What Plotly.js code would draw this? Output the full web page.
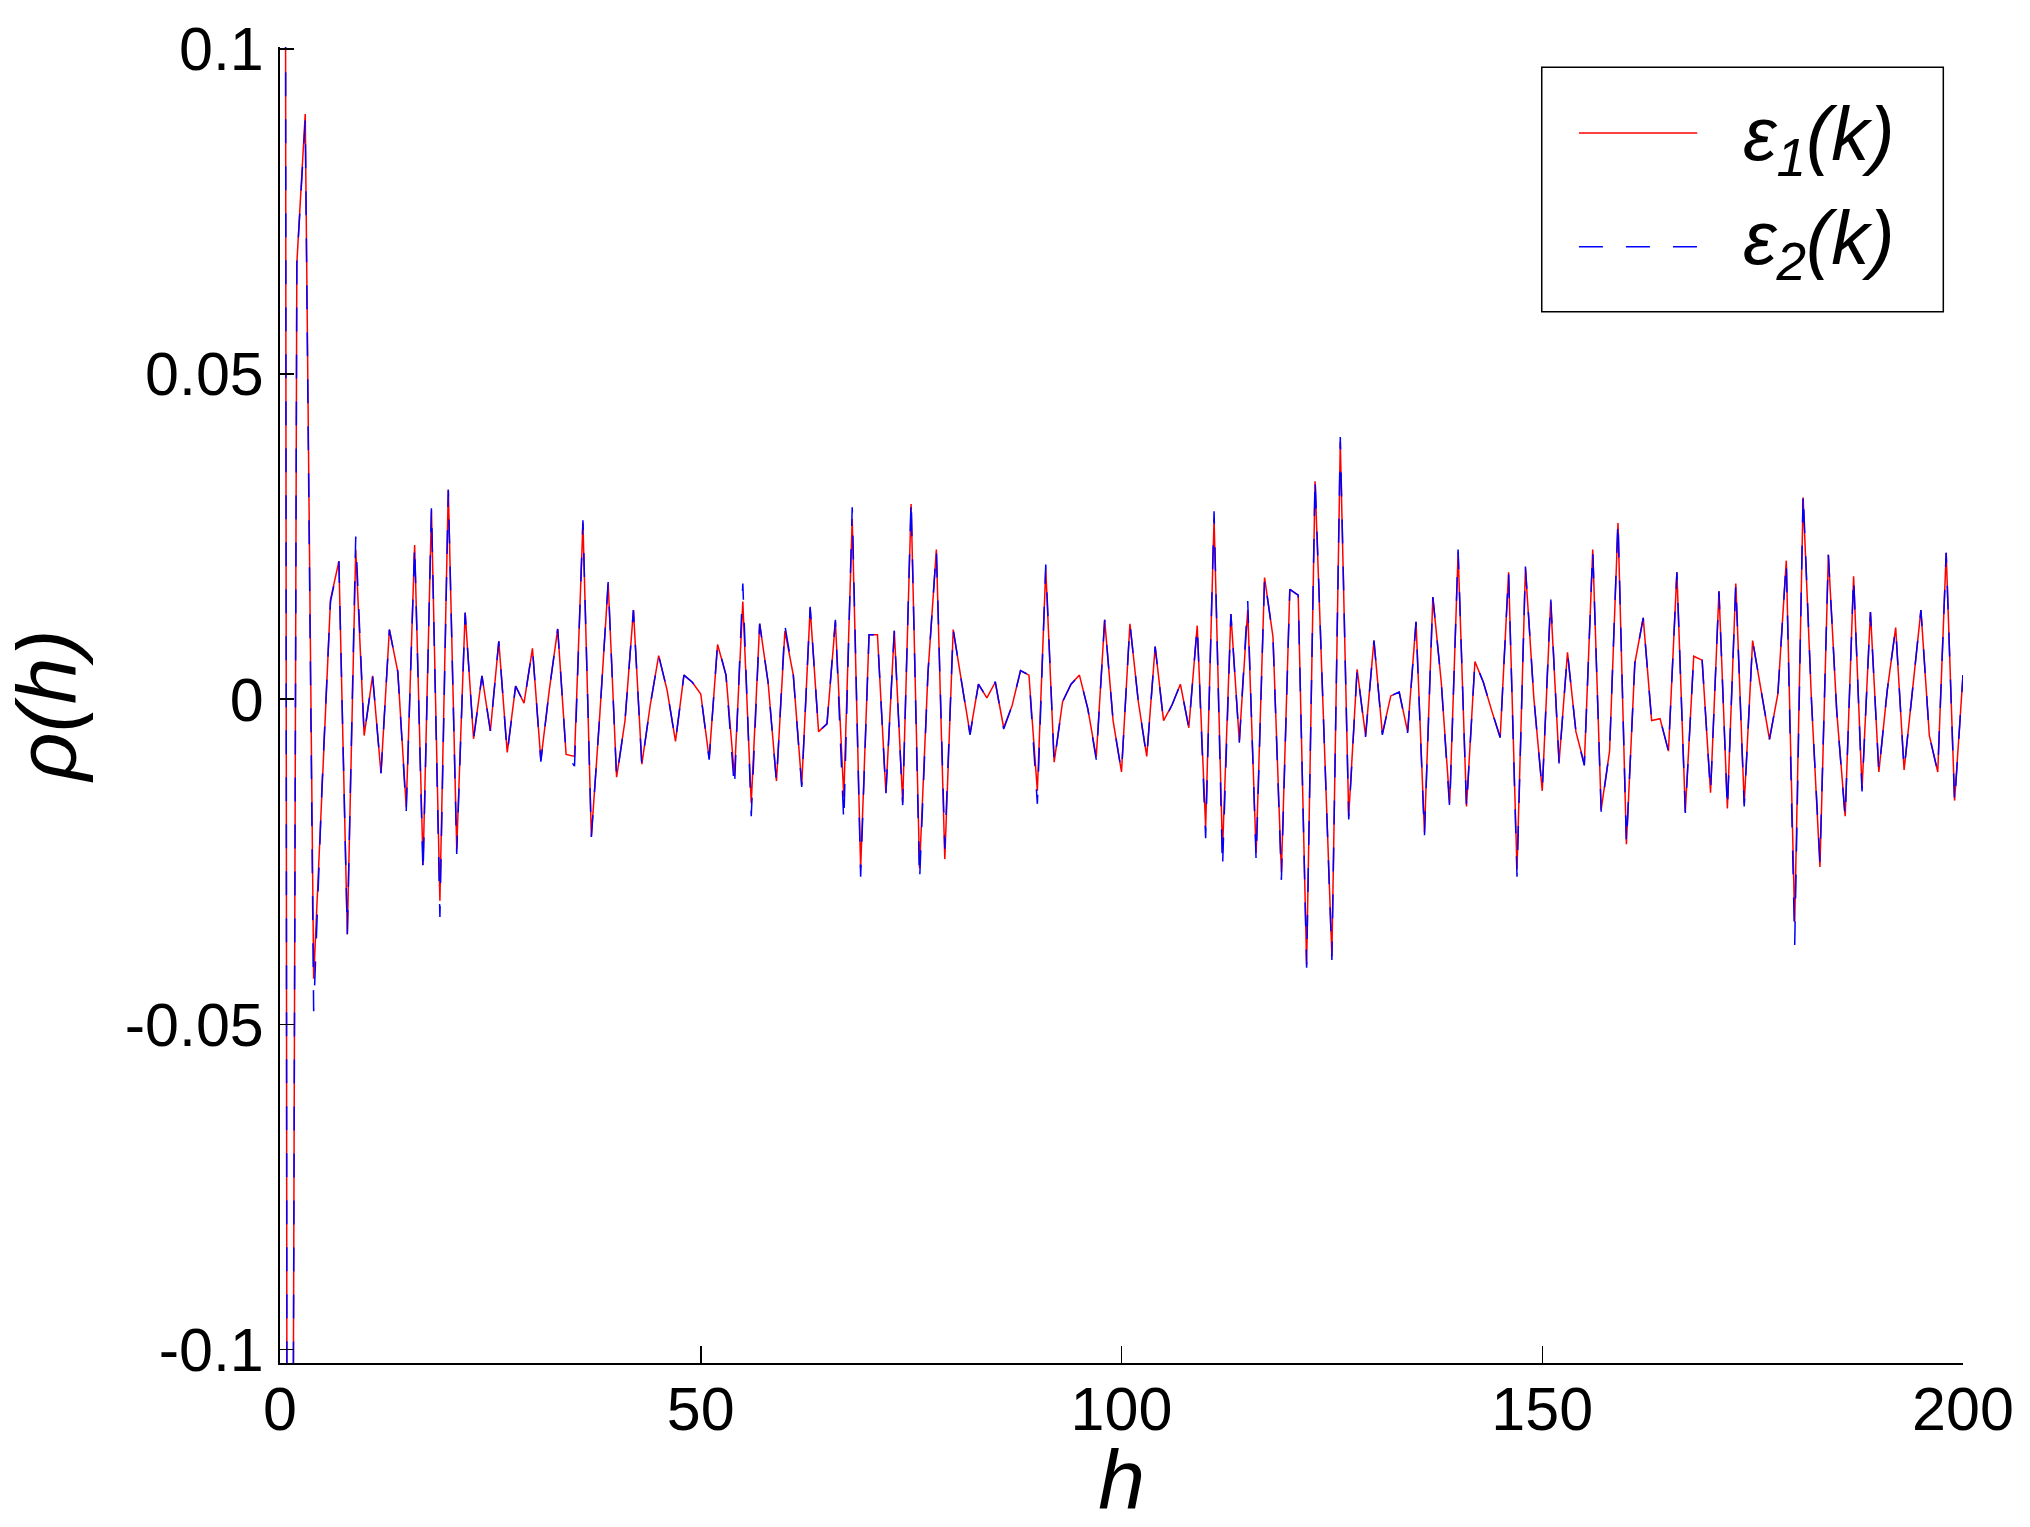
<!DOCTYPE html>
<html>
<head>
<meta charset="utf-8">
<script src="https://cdn.plot.ly/plotly-3.0.1.min.js"></script>
<style>html,body{margin:0;padding:0;background:#fff;}#chart{width:2030px;height:1527px;}</style>
</head>
<body>
<div id="chart"></div>
<script>
// lags h = 0..200
const lags = Array.from({length: 201}, (_, i) => i);

// autocorrelation of eps1(k)
const rho1 = [
 1.0, -0.35, 0.067, 0.090, -0.043, -0.013, 0.0153, 0.0212, -0.0362, 0.023,
 -0.0056, 0.0036, -0.0114, 0.0107, 0.0042, -0.0166, 0.0237, -0.0255, 0.0290, -0.0310,
 0.0322, -0.0230, 0.0133, -0.0061, 0.0036, -0.0049, 0.0089, -0.0082, 0.0020, -0.0006,
 0.0078, -0.0094, 0.0014, 0.0108, -0.0085, -0.0088, 0.0271, -0.0211, -0.0025, 0.0178,
 -0.0120, -0.0033, 0.0137, -0.0100, -0.0009, 0.0067, 0.0014, -0.0065, 0.0037, 0.0026,
 0.0008, -0.0091, 0.0084, 0.0037, -0.0118, 0.0150, -0.0160, 0.0116, 0.0026, -0.0126,
 0.0105, 0.0037, -0.0132, 0.0140, -0.0050, -0.0038, 0.0119, -0.0150, 0.0277, -0.0260,
 0.0099, 0.0099, -0.0144, 0.0105, -0.0159, 0.0300, -0.0260, 0.0040, 0.0230, -0.0246,
 0.0107, 0.0026, -0.0053, 0.0023, 0.0002, 0.0026, -0.0044, -0.0010, 0.0044, 0.0037,
 -0.0141, 0.0200, -0.0097, -0.0004, 0.0023, 0.0037, -0.0015, -0.0089, 0.0122, -0.0033,
 -0.0112, 0.0116, -0.0004, -0.0088, 0.0081, -0.0033, -0.0009, 0.0023, -0.0044, 0.0113,
 -0.0197, 0.0277, -0.0235, 0.0131, -0.0065, 0.0137, -0.0237, 0.0187, 0.0096, -0.0266,
 0.0169, 0.0160, -0.0408, 0.0335, -0.0020, -0.0395, 0.0395, -0.0180, 0.0046, -0.0056,
 0.0090, -0.0053, 0.0005, 0.0011, -0.0050, 0.0119, -0.0205, 0.0157, 0.0026, -0.0160,
 0.0225, -0.0165, 0.0058, 0.0026, -0.0018, -0.0059, 0.0195, -0.0262, 0.0201, 0.0002,
 -0.0141, 0.0150, -0.0097, 0.0072, -0.0050, -0.0100, 0.0230, -0.0170, -0.0080, 0.0271,
 -0.0223, 0.0055, 0.0125, -0.0033, -0.0030, -0.0080, 0.0195, -0.0173, 0.0066, 0.0060,
 -0.0144, 0.0166, -0.0168, 0.0178, -0.0161, 0.0090, 0.0014, -0.0062, 0.0008, 0.0213,
 -0.0343, 0.0310, -0.0004, -0.0258, 0.0222, -0.0020, -0.0180, 0.0189, -0.0138, 0.0134,
 -0.0112, 0.0014, 0.0110, -0.0109, 0.0014, 0.0137, -0.0056, -0.0112, 0.0225, -0.0156,
 0.0037
];

// autocorrelation of eps2(k)
const rho2 = [
 1.0, -0.35, 0.067, 0.089, -0.048, -0.013, 0.0150, 0.0212, -0.0362, 0.025,
 -0.0056, 0.0036, -0.0114, 0.0107, 0.0042, -0.0172, 0.0238, -0.0270, 0.0296, -0.0335,
 0.0322, -0.0238, 0.0133, -0.0061, 0.0036, -0.0049, 0.0089, -0.0084, 0.0020, -0.0006,
 0.0078, -0.0096, 0.0014, 0.0108, -0.0085, -0.0103, 0.0275, -0.0212, -0.0025, 0.0180,
 -0.0122, -0.0033, 0.0137, -0.0102, -0.0009, 0.0067, 0.0014, -0.0065, 0.0037, 0.0026,
 0.0008, -0.0093, 0.0086, 0.0037, -0.0138, 0.0178, -0.0180, 0.0116, 0.0026, -0.0128,
 0.0113, 0.0037, -0.0135, 0.0142, -0.0050, -0.0038, 0.0122, -0.0190, 0.0295, -0.0273,
 0.0099, 0.0099, -0.0146, 0.0105, -0.0163, 0.0309, -0.0280, 0.0040, 0.0230, -0.0230,
 0.0107, 0.0026, -0.0055, 0.0023, 0.0002, 0.0027, -0.0046, -0.0010, 0.0044, 0.0037,
 -0.0161, 0.0207, -0.0099, -0.0004, 0.0023, 0.0037, -0.0015, -0.0093, 0.0122, -0.0033,
 -0.0112, 0.0116, -0.0004, -0.0090, 0.0081, -0.0035, -0.0009, 0.0023, -0.0044, 0.0113,
 -0.0214, 0.0289, -0.0261, 0.0131, -0.0067, 0.0151, -0.0249, 0.0187, 0.0096, -0.0278,
 0.0169, 0.0160, -0.0413, 0.0342, -0.0020, -0.0401, 0.0403, -0.0185, 0.0046, -0.0058,
 0.0090, -0.0055, 0.0005, 0.0011, -0.0052, 0.0119, -0.0211, 0.0157, 0.0026, -0.0168,
 0.0230, -0.0168, 0.0058, 0.0026, -0.0018, -0.0059, 0.0195, -0.0273, 0.0204, 0.0002,
 -0.0141, 0.0157, -0.0099, 0.0072, -0.0050, -0.0102, 0.0230, -0.0173, -0.0080, 0.0276,
 -0.0223, 0.0055, 0.0125, -0.0033, -0.0030, -0.0080, 0.0195, -0.0175, 0.0066, 0.0060,
 -0.0144, 0.0166, -0.0170, 0.0178, -0.0165, 0.0090, 0.0014, -0.0062, 0.0008, 0.0213,
 -0.0378, 0.0318, -0.0004, -0.0250, 0.0222, -0.0020, -0.0183, 0.0189, -0.0142, 0.0134,
 -0.0112, 0.0014, 0.0110, -0.0109, 0.0014, 0.0137, -0.0056, -0.0112, 0.0225, -0.0160,
 0.0037
];

const seriesNames = ['<i>ε<sub>1</sub>(k)</i>', '<i>ε<sub>2</sub>(k)</i>'];
const seriesColors = ['#ff0000', '#0000ff'];
const seriesDash = ['solid', '24px,23px'];
const xTickVals = [0, 50, 100, 150, 200];
const xTickText = ['0', '50', '100', '150', '200'];
const yTickVals = [-0.1, -0.05, 0, 0.05, 0.1];
const yTickText = ['-0.1', '-0.05', '0', '0.05', '0.1'];

const FONT = 'Liberation Sans, Arial, Helvetica, sans-serif';

const traces = [
  {x: lags, y: rho1, type: 'scatter', mode: 'lines', name: seriesNames[0],
   line: {color: seriesColors[0], width: 1.5, dash: seriesDash[0]}},
  {x: lags, y: rho2, type: 'scatter', mode: 'lines', name: seriesNames[1],
   line: {color: seriesColors[1], width: 1.5, dash: seriesDash[1]}}
];

// Legend box drawn in paper coordinates (MATLAB-style boxed legend)
const legBox = {x0: 0.7497, x1: 0.9883, y0: 0.7988, y1: 0.9846};
const legLineX = [0.7718, 0.8421];
const legRowY = [0.9347, 0.8483];
const legTextX = 0.8681;
const legTextY = [0.9301, 0.8510];

const shapes = [
  {type: 'rect', xref: 'paper', yref: 'paper', x0: legBox.x0, x1: legBox.x1, y0: legBox.y0, y1: legBox.y1,
   line: {color: '#000', width: 1.5}, fillcolor: '#ffffff', layer: 'above'}
];
const annotations = [];
for (let i = 0; i < 2; i++) {
  shapes.push({type: 'line', xref: 'paper', yref: 'paper', x0: legLineX[0], x1: legLineX[1],
    y0: legRowY[i], y1: legRowY[i], line: {color: seriesColors[i], width: 1.5, dash: seriesDash[i]}, layer: 'above'});
  annotations.push({xref: 'paper', yref: 'paper', x: legTextX, y: legTextY[i], xanchor: 'left', yanchor: 'middle',
    text: seriesNames[i], showarrow: false, font: {family: FONT, size: 76, color: '#000'}});
}

const layout = {
  width: 2030, height: 1527,
  margin: {l: 280, r: 67, t: 47, b: 164, pad: 0},
  paper_bgcolor: '#ffffff', plot_bgcolor: '#ffffff',
  font: {family: FONT, color: '#000000', size: 61},
  showlegend: false,
  shapes: shapes,
  annotations: annotations,
  xaxis: {
    range: [0, 200], tickvals: xTickVals, ticktext: xTickText,
    ticks: 'inside', ticklen: 17, tickwidth: 1.5, tickcolor: '#000',
    showline: true, linecolor: '#000', linewidth: 2, mirror: false,
    showgrid: false, zeroline: false, ticklabelstandoff: -8,
    tickfont: {family: FONT, size: 61, color: '#000'},
    title: {text: '<i>h</i>', font: {family: FONT, size: 84, color: '#000'}, standoff: 60}
  },
  yaxis: {
    range: [-0.1021, 0.1003], tickvals: yTickVals, ticktext: yTickText,
    ticks: 'inside', ticklen: 14, tickwidth: 1.5, tickcolor: '#000',
    showline: true, linecolor: '#000', linewidth: 2, mirror: false,
    showgrid: false, zeroline: false, ticklabelstandoff: 2,
    tickfont: {family: FONT, size: 61, color: '#000'},
    title: {text: '<i>ρ(h)</i>', font: {family: FONT, size: 84, color: '#000'}, standoff: 28}
  }
};

Plotly.newPlot('chart', traces, layout, {displayModeBar: false, staticPlot: true});
</script>
</body>
</html>
